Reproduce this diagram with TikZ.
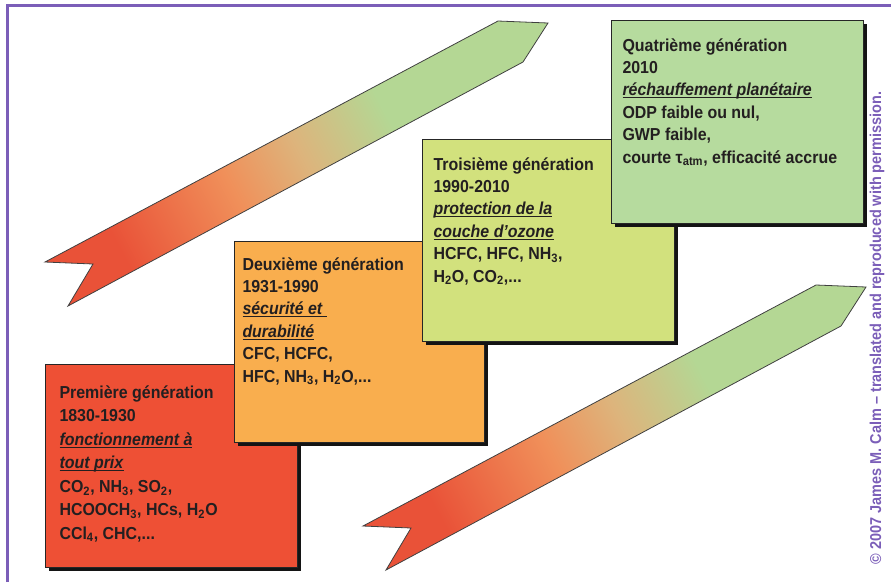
\documentclass[tikz,border=0pt]{standalone}
\usepackage{fontspec}
\setmainfont{Liberation Sans}[FakeStretch=0.92]

\definecolor{framepurple}{RGB}{123,94,184}
\definecolor{textdark}{RGB}{35,31,32}
\definecolor{genone}{RGB}{238,80,53}
\definecolor{gentwo}{RGB}{249,174,78}
\definecolor{genthree}{RGB}{210,225,125}
\definecolor{genfour}{RGB}{182,219,158}
\definecolor{trendred}{RGB}{233,82,56}
\definecolor{trendorange}{RGB}{240,144,90}
\definecolor{trendtan}{RGB}{221,180,124}
\definecolor{trendgreen}{RGB}{180,215,148}

\pgfdeclarehorizontalshading{trendshade}{100bp}{color(0bp)=(trendred); color(27bp)=(trendred); color(42bp)=(trendorange); color(51bp)=(trendtan); color(62bp)=(trendgreen); color(100bp)=(trendgreen)}

\newcommand{\genfocus}[1]{\underline{\smash{\textit{#1}}}}

\tikzset{every picture/.style={line width=0.75pt}}

\begin{document}
\begin{tikzpicture}[x=0.75pt,y=0.75pt,yscale=-1,xscale=1,
    trend/.style={draw=black!75, line width=0.6pt, shading=trendshade, shading angle=28},
    genshadow/.style={fill=black!92, draw=none},
    genbox/.style={draw=black!85, line width=0.6pt},
    gentext/.style={anchor=base west, inner sep=0pt, align=left, text=textdark,
        font=\bfseries\fontsize{13}{16.8}\selectfont}]
    \useasboundingbox (0,0) rectangle (891,582);

    %Shape: Frame
    \draw [framepurple, line width=2.25pt] (7,582) -- (7,5) -- (891,5) ;

    %Shape: Upper Arrow
    \shade [trend] (45,262) -- (498,21) -- (548,23) -- (523,62) -- (68,306) -- (93,264) -- cycle ;
    %Shape: Lower Arrow
    \shade [trend] (363,526) -- (816,285) -- (866,287) -- (841,326) -- (386,570) -- (411,528) -- cycle ;

    %Shape: Rectangle (first generation)
    \fill [genshadow] (49,368) rectangle (301,571) ;
    \draw [genbox, fill=genone] (45,364) rectangle (297,567) ;
    %Shape: Rectangle (second generation)
    \fill [genshadow] (238,245) rectangle (488,446) ;
    \draw [genbox, fill=gentwo] (234,241) rectangle (484,442) ;
    %Shape: Rectangle (third generation)
    \fill [genshadow] (426,143) rectangle (678,345) ;
    \draw [genbox, fill=genthree] (422,139) rectangle (674,341) ;
    %Shape: Rectangle (fourth generation)
    \fill [genshadow] (615,24) rectangle (867,227) ;
    \draw [genbox, fill=genfour] (611,20) rectangle (863,223) ;

    % Text Node (anchored on the last line)
    \node [gentext, font=\bfseries\fontsize{13}{17.6}\selectfont] (gen1) at (59,539) {Première génération\\1830-1930\\\genfocus{fonctionnement à}\\\genfocus{tout prix}\\CO\textsubscript{2}, NH\textsubscript{3}, SO\textsubscript{2},\\HCOOCH\textsubscript{3}, HCs, H\textsubscript{2}O\\CCl\textsubscript{4}, CHC,...};
    % Text Node
    \node [gentext] (gen2) at (242,382) {Deuxième génération\\1931-1990\\\genfocus{sécurité et }\\\genfocus{durabilité}\\CFC, HCFC,\\HFC, NH\textsubscript{3}, H\textsubscript{2}O,...};
    % Text Node
    \node [gentext] (gen3) at (433,282) {Troisième génération\\1990-2010\\\genfocus{protection de la}\\\genfocus{couche d’ozone}\\HCFC, HFC, NH\textsubscript{3},\\H\textsubscript{2}O, CO\textsubscript{2},...};
    % Text Node
    \node [gentext] (gen4) at (622,163) {Quatrième génération\\2010\\\genfocus{réchauffement planétaire}\\ODP faible ou nul,\\GWP faible,\\courte τ\textsubscript{atm}, efficacité accrue};

    % Text Node
    \node [rotate=90, inner sep=0pt, text=framepurple, font=\bfseries\fontsize{11.8}{13}\selectfont] (credit) at (877,328) {© 2007 James M. Calm – translated and reproduced with permission.};

\end{tikzpicture}
\end{document}
